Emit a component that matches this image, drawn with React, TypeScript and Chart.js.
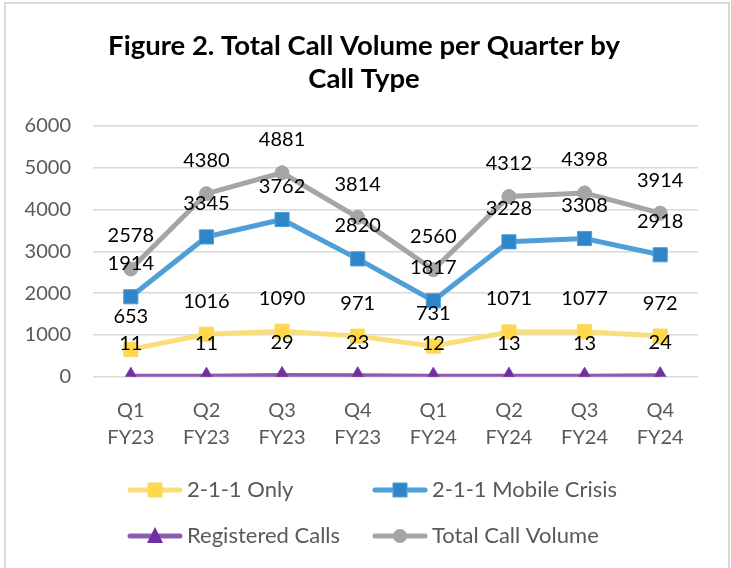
import React, { useEffect, useRef } from "react";
import { Chart, registerables } from "chart.js";

Chart.register(...registerables);

const categories: string[][] = [
  ["Q1", "FY23"], ["Q2", "FY23"], ["Q3", "FY23"], ["Q4", "FY23"],
  ["Q1", "FY24"], ["Q2", "FY24"], ["Q3", "FY24"], ["Q4", "FY24"],
];
const only211: number[] = [653, 1016, 1090, 971, 731, 1071, 1077, 972];
const mobileCrisis: number[] = [1914, 3345, 3762, 2820, 1817, 3228, 3308, 2918];
const registered: number[] = [11, 11, 29, 23, 12, 13, 13, 24];
const totalVolume: number[] = [2578, 4380, 4881, 3814, 2560, 4312, 4398, 3914];
const titleLines: string[] = ["Figure 2. Total Call Volume per Quarter by", "Call Type"];

const FONT = "Lato, 'Open Sans', sans-serif";

const series = [
  { label: "2-1-1 Only", data: only211, line: "#F8DF7C", fill: "#FFD84C", border: "#F6D968", style: "rect", radius: 10 },
  { label: "2-1-1 Mobile Crisis", data: mobileCrisis, line: "#4E9FD7", fill: "#2E86C9", border: "#4E9FD7", style: "rect", radius: 10 },
  { label: "Registered Calls", data: registered, line: "#8C5BB4", fill: "#7030A0", border: "#7A3FA8", style: "triangle", radius: 9 },
  { label: "Total Call Volume", data: totalVolume, line: "#A5A5A5", fill: "#A5A5A5", border: "#A5A5A5", style: "circle", radius: 7 },
];

const decorPlugin = {
  id: "decor",
  beforeDraw(chart: any) {
    const ctx = chart.ctx;
    ctx.save();
    ctx.fillStyle = "#ffffff";
    ctx.fillRect(0, 0, chart.width, chart.height);
    ctx.strokeStyle = "#D9D9D9";
    ctx.lineWidth = 2;
    ctx.strokeRect(5, 3, 724, 620);
    ctx.restore();
  },
  afterDatasetsDraw(chart: any) {
    const ctx = chart.ctx;
    ctx.save();
    // data labels
    ctx.font = `20px ${FONT}`;
    ctx.fillStyle = "#000000";
    ctx.textAlign = "center";
    ctx.textBaseline = "middle";
    chart.data.datasets.forEach((ds: any, i: number) => {
      const meta = chart.getDatasetMeta(i);
      meta.data.forEach((pt: any, j: number) => {
        ctx.fillText(String(ds.data[j]), pt.x, pt.y - 33);
      });
    });
    // title
    ctx.font = `bold 27.5px ${FONT}`;
    ctx.fillStyle = "#000000";
    ctx.fillText(titleLines[0], 364, 46);
    ctx.fillText(titleLines[1], 364, 79);
    // legend
    const pos = [
      { x: 127, y: 490 }, { x: 372, y: 490 },
      { x: 127, y: 536 }, { x: 372, y: 536 },
    ];
    series.forEach((s, i) => {
      const p = pos[i];
      ctx.strokeStyle = s.line;
      ctx.lineWidth = 5;
      ctx.lineCap = "round";
      ctx.beginPath();
      ctx.moveTo(p.x + 3, p.y);
      ctx.lineTo(p.x + 53, p.y);
      ctx.stroke();
      ctx.lineCap = "butt";
      ctx.fillStyle = s.fill;
      ctx.strokeStyle = s.border;
      ctx.lineWidth = 1;
      const cx = p.x + 28;
      if (s.style === "rect") {
        ctx.fillRect(cx - 7, p.y - 7, 14, 14);
        ctx.strokeRect(cx - 7, p.y - 7, 14, 14);
      } else if (s.style === "triangle") {
        ctx.beginPath();
        ctx.moveTo(cx, p.y - 9);
        ctx.lineTo(cx + 8, p.y + 7);
        ctx.lineTo(cx - 8, p.y + 7);
        ctx.closePath();
        ctx.fill();
      } else {
        ctx.beginPath();
        ctx.arc(cx, p.y, 7, 0, Math.PI * 2);
        ctx.fill();
      }
      ctx.fillStyle = "#595959";
      ctx.font = `22px ${FONT}`;
      ctx.textAlign = "left";
      ctx.textBaseline = "middle";
      ctx.fillText(s.label, p.x + 60, p.y);
    });
    ctx.restore();
  },
};

export default function App() {
  const ref = useRef<HTMLCanvasElement | null>(null);
  useEffect(() => {
    if (!ref.current) return;
    const chart = new Chart(ref.current, {
      type: "line",
      data: {
        labels: categories,
        datasets: series.map((s) => ({
          label: s.label,
          data: s.data,
          borderColor: s.line,
          backgroundColor: s.fill,
          pointBackgroundColor: s.fill,
          pointBorderColor: s.border,
          pointBorderWidth: 1,
          pointStyle: s.style as any,
          pointRadius: s.radius,
          borderWidth: 5,
          tension: 0,
          fill: false,
        })),
      },
      options: {
        animation: false,
        responsive: false,
        maintainAspectRatio: false,
        layout: { padding: { top: 126, right: 33, left: 0, bottom: 0 } },
        plugins: {
          legend: { display: false },
          title: { display: false },
          tooltip: { enabled: false },
        },
        scales: {
          x: {
            offset: true,
            grid: { display: false, drawTicks: false },
            border: { display: false },
            ticks: {
              color: "#595959",
              font: { family: FONT, size: 20, lineHeight: 1.35 },
              padding: 20,
              maxRotation: 0,
              autoSkip: false,
            },
            afterFit: (scale: any) => { scale.height = 191.3; },
          },
          y: {
            min: 0,
            max: 6000,
            grid: { color: "#D9D9D9", lineWidth: 1.5, drawTicks: false },
            border: { display: false },
            ticks: {
              stepSize: 1000,
              color: "#595959",
              font: { family: FONT, size: 20 },
              padding: 22,
              callback: (v: any) => String(v),
            },
            afterFit: (scale: any) => { scale.width = 93; },
          },
        },
      },
      plugins: [decorPlugin],
    });
    return () => chart.destroy();
  }, []);
  return (
    <div style={{ position: "fixed", left: 0, top: 0, width: 731, height: 568 }}>
      <canvas ref={ref} width={731} height={568} style={{ width: 731, height: 568, display: "block" }} />
    </div>
  );
}
